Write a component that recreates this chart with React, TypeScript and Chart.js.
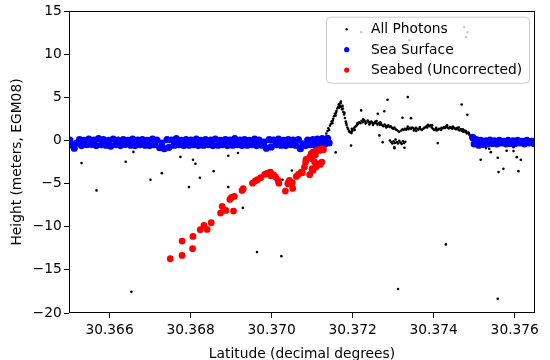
import { useEffect, useRef } from "react";
import { Chart, registerables } from "chart.js";

Chart.register(...registerables);

const FONT = "'DejaVu Sans', sans-serif";
const FS = 13.8;

const xTicks = [30.366, 30.368, 30.37, 30.372, 30.374, 30.376];
const yTicks = [-20, -15, -10, -5, 0, 5, 10, 15];
const legendLabels = ["All Photons", "Sea Surface", "Seabed (Uncorrected)"];

// All photons: land / structure track
const photonTrack: [number, number][] = [
  [30.37135, 0.8], [30.37138, 1.1], [30.3714, 1.4], [30.37142, 1.2], [30.37144, 1.7], [30.37146, 1.9],
  [30.37148, 2.2], [30.3715, 2.0], [30.37151, 2.3], [30.37152, 2.5], [30.37154, 2.8], [30.37156, 3.1],
  [30.37158, 2.9], [30.37159, 3.2], [30.3716, 3.4], [30.37162, 3.7], [30.37164, 3.9], [30.37166, 4.2],
  [30.37167, 3.8], [30.37168, 4.0], [30.3717, 4.3], [30.37171, 4.5], [30.37172, 3.9], [30.37174, 3.6],
  [30.37175, 4.0], [30.37176, 3.7], [30.37177, 3.3], [30.37179, 3.0], [30.3718, 3.2], [30.37181, 2.6],
  [30.37183, 2.2], [30.37184, 2.0], [30.37185, 1.8], [30.37187, 1.5], [30.37189, 1.3], [30.37191, 1.1],
  [30.37193, 0.95], [30.37195, 1.0], [30.37197, 0.85], [30.37198, 1.35], [30.37199, 1.1], [30.37201, 1.3],
  [30.37204, 1.45], [30.37205, 1.2], [30.37207, 1.6], [30.3721, 1.75], [30.37212, 2.0], [30.37213, 1.9],
  [30.37216, 2.1], [30.37219, 2.0], [30.37222, 2.25], [30.37225, 2.1], [30.37226, 2.45], [30.37228, 2.35],
  [30.37231, 2.2], [30.37232, 1.95], [30.37234, 2.05], [30.37237, 2.3], [30.3724, 2.15], [30.37241, 1.85],
  [30.37243, 2.0], [30.37246, 2.2], [30.37249, 2.05], [30.3725, 1.8], [30.37252, 1.95], [30.37255, 2.15],
  [30.37258, 2.0], [30.37259, 2.25], [30.37261, 1.85], [30.37264, 2.0], [30.37267, 1.8], [30.37268, 2.1],
  [30.3727, 1.95], [30.37273, 1.75], [30.37276, 1.65], [30.37279, 1.85], [30.37282, 1.7], [30.37283, 1.5],
  [30.37285, 1.6], [30.37288, 1.75], [30.37291, 1.55], [30.37294, 1.65], [30.37297, 1.45], [30.373, 1.35],
  [30.37303, 1.5], [30.37306, 1.3], [30.37309, 1.2], [30.37312, 1.1], [30.37315, 1.0],
  [30.3732, 1.15], [30.37323, 1.3], [30.37326, 1.2], [30.37329, 1.35], [30.37332, 1.25], [30.37335, 1.4],
  [30.37336, 1.6], [30.37338, 1.3], [30.37341, 1.45], [30.37344, 1.35], [30.37347, 1.5], [30.3735, 1.4],
  [30.37351, 1.15], [30.37353, 1.3], [30.37356, 1.45], [30.37357, 1.1], [30.37359, 1.35], [30.37362, 1.25],
  [30.37365, 1.4], [30.37366, 1.55], [30.37368, 1.3], [30.37371, 1.2], [30.37374, 1.35], [30.37377, 1.45],
  [30.3738, 1.55], [30.37383, 1.7], [30.37384, 1.5], [30.37386, 1.8], [30.37389, 1.65], [30.37392, 1.75],
  [30.37395, 1.5], [30.37396, 1.75], [30.37398, 1.35], [30.37401, 1.2], [30.37404, 1.3], [30.37406, 1.45],
  [30.37407, 1.15], [30.3741, 1.25], [30.37413, 1.35], [30.37416, 1.3], [30.37418, 1.2], [30.37419, 1.45],
  [30.37422, 1.4], [30.37425, 1.55], [30.37428, 1.45], [30.37431, 1.6], [30.37433, 1.75], [30.37434, 1.5],
  [30.37437, 1.4], [30.3744, 1.55], [30.37443, 1.45], [30.37446, 1.35], [30.37447, 1.6], [30.37449, 1.5],
  [30.37452, 1.4], [30.37455, 1.3], [30.37458, 1.45], [30.37461, 1.25], [30.37462, 1.5], [30.37464, 1.15],
  [30.37467, 1.3], [30.3747, 1.1], [30.37472, 1.3], [30.37473, 1.0], [30.37476, 1.15], [30.37479, 0.95],
  [30.3748, 1.1], [30.37482, 0.8], [30.37485, 0.9], [30.37487, 0.85], [30.37488, 0.65], [30.37491, 0.5],
  [30.37494, 0.4],
];

// All photons: small cluster near 0 m
const photonCluster: [number, number][] = [
  [30.37292, 0.0], [30.37295, -0.2], [30.37298, -0.35], [30.37301, -0.1], [30.37304, -0.3], [30.37306, 0.1],
  [30.37309, -0.2], [30.37312, -0.35], [30.37315, -0.05], [30.37318, -0.25], [30.37321, -0.4], [30.37324, -0.1],
  [30.37327, -0.3], [30.3733, -0.15], [30.37303, -0.9], [30.37328, -0.85],
];

// All photons: scattered noise
const photonNoise: [number, number][] = [
  [30.36531, -2.63], [30.36568, -5.79], [30.3664, -2.47], [30.36654, -17.55], [30.36659, -1.33],
  [30.36701, -4.55], [30.36729, -3.79], [30.36775, -1.91], [30.36796, -5.41], [30.36806, -2.24],
  [30.36812, -2.7], [30.36823, -4.32], [30.36857, -3.56], [30.36893, -1.77], [30.36893, -5.41],
  [30.36917, -1.45], [30.36929, -7.82], [30.36964, -12.94], [30.37024, -13.41], [30.37027, -4.55],
  [30.3705, -3.48], [30.37158, -1.39], [30.37196, -0.6], [30.37221, 3.48], [30.37286, 4.72],
  [30.37336, 5.02], [30.37323, 2.63], [30.37344, 2.58], [30.37278, 3.39], [30.37266, 0.58],
  [30.37262, 3.09], [30.37274, -0.2], [30.37303, -0.78], [30.3741, -0.31], [30.37469, 4.17],
  [30.37483, 2.98], [30.37312, -17.21], [30.3743, -12.05], [30.37516, -2.24], [30.37529, -0.89],
  [30.37537, -0.96], [30.37541, -1.36], [30.37558, -2.0], [30.3756, -3.67], [30.37572, -3.28],
  [30.3758, -1.19], [30.37597, -1.22], [30.37597, -0.78], [30.37605, -1.94], [30.37609, -3.56],
  [30.37615, -2.24], [30.37558, -18.34], [30.37221, 12.55], [30.37475, 13.13], [30.37483, 12.55],
  [30.3748, 11.97], [30.3734, 11.59],
];

const seaSurfaceLeft: [number, number][] = [
  [30.36502, 0.05], [30.36508, -0.55], [30.36513, -0.9], [30.36519, -0.3], [30.36526, 0.1], [30.36531, -0.6],
  [30.36537, 0.0], [30.36544, -0.5], [30.36549, 0.15], [30.36555, -0.45], [30.36562, 0.05], [30.36567, -0.6],
  [30.36573, 0.2], [30.3658, -0.5], [30.36585, 0.1], [30.36591, -0.55], [30.36598, 0.0], [30.36603, -0.65],
  [30.36609, 0.15], [30.36616, -0.5], [30.36621, 0.05], [30.36627, -0.6], [30.36634, 0.1], [30.36639, -0.45],
  [30.36645, 0.0], [30.36652, -0.55], [30.36657, 0.15], [30.36663, -0.6], [30.3667, 0.05], [30.36675, -0.5],
  [30.36681, 0.1], [30.36688, -0.55], [30.36693, 0.0], [30.36699, -0.6], [30.36706, 0.15], [30.36711, -0.5],
  [30.36717, 0.05], [30.36724, -0.85], [30.36729, -0.3], [30.36735, -0.95], [30.36742, 0.1], [30.36747, -0.8],
  [30.36753, 0.05], [30.3676, -0.55], [30.36765, 0.2], [30.36771, -0.5], [30.36778, 0.0], [30.36783, -0.6],
  [30.36789, 0.1], [30.36796, -0.55], [30.36801, 0.05], [30.36807, -0.5], [30.36814, 0.15], [30.36819, -0.6],
  [30.36825, 0.0], [30.36832, -0.55], [30.36837, 0.1], [30.36843, -0.5], [30.3685, 0.05], [30.36855, -0.6],
  [30.36861, 0.15], [30.36868, -0.55], [30.36873, 0.0], [30.36879, -0.5], [30.36886, 0.1], [30.36891, -0.6],
  [30.36897, 0.05], [30.36904, -0.55], [30.36909, 0.2], [30.36915, -0.5], [30.36922, 0.05], [30.36927, -0.6],
  [30.36933, 0.1], [30.3694, -0.55], [30.36945, 0.0], [30.36951, -0.5], [30.36958, 0.15], [30.36963, -0.6],
  [30.36969, 0.05], [30.36976, -0.55], [30.36981, -0.2], [30.36987, -0.9], [30.36994, 0.1], [30.36999, -0.75],
  [30.37005, 0.05], [30.37012, -0.5], [30.37017, 0.15], [30.37023, -0.55], [30.3703, 0.0], [30.37035, -0.6],
  [30.37041, 0.1], [30.37048, -0.5], [30.37053, 0.05], [30.37059, -0.55], [30.37066, 0.1], [30.37071, -0.95],
  [30.37077, -0.4], [30.37084, -0.6], [30.37089, 0.05], [30.37095, -0.5], [30.37102, 0.1], [30.37107, -0.55],
  [30.37113, 0.15], [30.3712, -0.5], [30.37125, 0.2], [30.37131, -0.45], [30.37138, 0.25], [30.37142, -0.3],
];

const seaSurfaceRight: [number, number][] = [
  [30.37496, 0.35], [30.375, -0.4], [30.37505, 0.1], [30.37511, -0.55], [30.37516, 0.0], [30.37522, -0.45],
  [30.37528, -0.05], [30.37533, -0.4], [30.37539, 0.05], [30.37545, -0.35], [30.3755, -0.05], [30.37556, -0.4],
  [30.37562, 0.0], [30.37567, -0.3], [30.37573, -0.1], [30.37579, -0.4], [30.37584, 0.0], [30.3759, -0.35],
  [30.37596, -0.05], [30.37601, -0.35], [30.37607, 0.0], [30.37613, -0.3], [30.37618, -0.1], [30.37624, -0.4],
  [30.3763, 0.0], [30.37635, -0.3], [30.37641, -0.1], [30.37647, -0.35], [30.37652, -0.05],
];

const seabed: [number, number][] = [
  [30.3675, -13.71], [30.36779, -13.33], [30.36779, -11.67], [30.36805, -12.55], [30.36806, -11.12],
  [30.36824, -10.35], [30.36833, -9.85], [30.36841, -10.31], [30.36851, -9.54], [30.36874, -8.42],
  [30.36878, -7.65], [30.36887, -8.11], [30.36906, -8.19], [30.36897, -6.84], [30.36901, -6.6],
  [30.36908, -6.49], [30.36927, -5.79], [30.3693, -5.6], [30.36953, -4.95], [30.3696, -4.7],
  [30.36965, -4.55], [30.36973, -4.32], [30.36983, -3.94], [30.3699, -3.8], [30.36997, -3.67],
  [30.36998, -4.09], [30.37005, -4.0], [30.3701, -4.25], [30.37016, -4.63], [30.37018, -4.95],
  [30.37034, -5.87], [30.3704, -5.02], [30.37044, -4.63], [30.37042, -4.87], [30.37051, -4.9],
  [30.37052, -5.56], [30.37061, -4.17], [30.37066, -3.95], [30.37073, -3.67], [30.37076, -3.74],
  [30.37081, -3.09], [30.37084, -2.51], [30.37085, -2.2], [30.37094, -3.97], [30.37094, -1.94],
  [30.371, -3.28], [30.371, -2.12], [30.37102, -3.48], [30.37102, -1.36], [30.37106, -2.51],
  [30.37108, -1.66], [30.3711, -3.09], [30.37114, -1.08], [30.37118, -2.7], [30.3712, -2.78],
  [30.37124, -2.51], [30.37118, -1.16], [30.37126, -0.96], [30.37128, -1.08], [30.37098, -1.54],
];

const toXY = (arr: [number, number][]) => arr.map(([x, y]) => ({ x, y }));

export default function App() {
  const ref = useRef<HTMLCanvasElement>(null);

  useEffect(() => {
    document.body.style.margin = "0";
    const canvas = ref.current!;

    const framePlugin = {
      id: "frame",
      afterDraw(chart: any) {
        const { ctx, chartArea: a } = chart;
        ctx.save();
        ctx.strokeStyle = "#000";
        ctx.lineWidth = 1;
        ctx.strokeRect(a.left + 0.5, a.top + 0.5, a.right - a.left - 1, a.bottom - a.top - 1);

        // legend box
        const bw = 203;
        const bh = 66;
        const bx = a.right - 6 - bw;
        const by = a.top + 5.7;
        ctx.beginPath();
        (ctx as any).roundRect(bx + 0.5, by + 0.5, bw, bh, 4);
        ctx.fillStyle = "rgba(255,255,255,0.8)";
        ctx.fill();
        ctx.strokeStyle = "#cccccc";
        ctx.stroke();

        const ds = chart.data.datasets;
        const radii = [1.2, 2.6, 2.6];
        ctx.font = `${FS}px ${FONT}`;
        ctx.textBaseline = "middle";
        ctx.textAlign = "left";
        for (let i = 0; i < ds.length; i++) {
          const cy = by + 12.6 + i * 20.4;
          ctx.beginPath();
          ctx.arc(bx + 20.7, cy, radii[i], 0, Math.PI * 2);
          ctx.fillStyle = ds[i].backgroundColor;
          ctx.fill();
          ctx.fillStyle = "#000";
          ctx.fillText(ds[i].label, bx + 45, cy + 0.5);
        }
        ctx.restore();
      },
    };

    const chart = new Chart(canvas, {
      type: "scatter",
      data: {
        datasets: [
          {
            label: legendLabels[0],
            data: toXY([...photonNoise, ...photonCluster, ...photonTrack]),
            backgroundColor: "#000000",
            borderWidth: 0,
            pointRadius: 1.3,
            order: 3,
            clip: 0,
          },
          {
            label: legendLabels[1],
            data: toXY([...seaSurfaceLeft, ...seaSurfaceRight]),
            backgroundColor: "#0000ff",
            borderWidth: 0,
            pointRadius: 3.6,
            order: 2,
            clip: 0,
          },
          {
            label: legendLabels[2],
            data: toXY(seabed),
            backgroundColor: "#ff0000",
            borderWidth: 0,
            pointRadius: 3.4,
            order: 1,
            clip: 0,
          },
        ],
      },
      options: {
        animation: false,
        responsive: false,
        devicePixelRatio: 1,
        events: [],
        layout: { padding: { top: 11, right: 15, left: 0, bottom: 0 } },
        plugins: { legend: { display: false }, tooltip: { enabled: false } },
        scales: {
          x: {
            type: "linear",
            min: 30.365,
            max: 30.3765,
            afterBuildTicks: (scale: any) => {
              scale.ticks = xTicks.map((v) => ({ value: v }));
            },
            afterFit: (scale: any) => {
              scale.height = 47;
            },
            ticks: {
              callback: (v: any) => Number(v).toFixed(3),
              font: { family: FONT, size: FS },
              color: "#000",
              padding: 4.5,
              maxRotation: 0,
              autoSkip: false,
            },
            grid: { display: true, drawOnChartArea: false, drawTicks: true, tickLength: 5, color: "#000", lineWidth: 1 },
            border: { display: false },
            title: {
              display: true,
              text: "Latitude (decimal degrees)",
              font: { family: FONT, size: FS, lineHeight: 0.8 },
              color: "#000",
              padding: { top: 0, bottom: 0 },
            },
          },
          y: {
            type: "linear",
            min: -20,
            max: 15,
            afterBuildTicks: (scale: any) => {
              scale.ticks = yTicks.map((v) => ({ value: v }));
            },
            afterFit: (scale: any) => {
              scale.width = 69;
            },
            ticks: {
              callback: (v: any) => String(v).replace("-", "\u2212"),
              font: { family: FONT, size: FS },
              color: "#000",
              padding: 2.3,
              autoSkip: false,
            },
            grid: { display: true, drawOnChartArea: false, drawTicks: true, tickLength: 5, color: "#000", lineWidth: 1 },
            border: { display: false },
            title: {
              display: true,
              text: "Height (meters, EGM08)",
              font: { family: FONT, size: FS, lineHeight: 1.2 },
              color: "#000",
              padding: { top: 8.7, bottom: 0 },
            },
          },
        },
      },
      plugins: [framePlugin],
    } as any);

    return () => chart.destroy();
  }, []);

  return (
    <div style={{ width: 550, height: 360 }}>
      <canvas ref={ref} width={550} height={360} style={{ display: "block" }} />
    </div>
  );
}
